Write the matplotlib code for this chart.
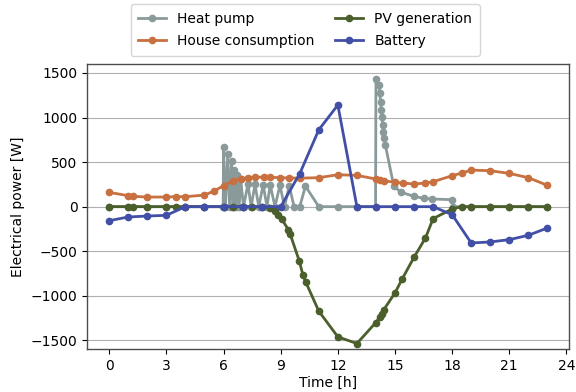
import matplotlib
matplotlib.use("Agg")
import matplotlib.pyplot as plt

# Heat pump (irregular timestamps, on/off cycling in the morning)
hp_time = [0, 1, 2, 3, 4, 5, 5.98, 6.0, 6.1, 6.22, 6.32, 6.42, 6.5, 6.57, 6.65,
           6.73, 6.82, 6.9, 7.05, 7.28, 7.45, 7.65, 7.85, 8.08, 8.28, 8.45,
           8.7, 8.96, 9.2, 9.45, 9.7, 10.0, 10.3, 11.0, 12.0, 13.0, 13.98,
           14.0, 14.15, 14.2, 14.24, 14.28, 14.31, 14.35, 14.38, 14.42, 14.49,
           14.94, 15.33, 16.0, 16.5, 16.96, 18.0, 18.05, 19, 20, 21, 22, 23]
hp_power = [0, 0, 0, 0, 0, 0, 0, 665, 0, 590, 0, 515, 0, 415, 0,
            355, 0, 305, 0, 255, 0, 250, 0, 245, 0, 245,
            0, 240, 0, 235, 0, 0, 230, 0, 0, 0, 0,
            1430, 1366, 1273, 1179, 1086, 1011, 918, 843, 769, 694,
            228, 160, 116, 93, 86, 78, 0, 0, 0, 0, 0, 0]

# House consumption
house_time = [0, 1, 1.25, 2, 3, 3.5, 4, 5, 5.5, 6, 6.5, 6.9, 7.3, 7.65, 8.1,
              8.45, 8.95, 9.45, 10, 11, 12, 13, 14, 14.2, 14.4, 15, 15.4, 16,
              16.6, 17, 18, 18.5, 19, 20, 21, 22, 23]
house_power = [160, 123, 116, 108, 108, 112, 112, 130, 175, 235, 290, 315, 325,
               330, 332, 330, 325, 322, 320, 325, 358, 351, 310, 300, 292, 272,
               265, 254, 265, 280, 347, 377, 410, 403, 373, 325, 239]

# PV generation
pv_time = [0, 1, 1.25, 2, 3, 3.5, 4, 5, 6, 6.5, 7, 7.5, 8, 8.44, 8.7, 8.88,
           9.05, 9.4, 9.49, 9.98, 10.16, 10.32, 11, 12, 13, 13.98, 14.2, 14.3,
           14.4, 15, 15.38, 16, 16.6, 17, 18, 18.5, 19, 20, 21, 22, 23]
pv_power = [0, 0, 0, 0, 0, 0, 0, 0, 0, 0, 0, 0, -2, -15, -52, -90,
            -138, -258, -302, -612, -761, -848, -1172, -1460, -1535, -1303, -1240, -1200,
            -1160, -967, -810, -567, -351, -134, -26, 0, 0, 0, 0, 0, 0]

# Battery
bat_time = [0, 1, 2, 3, 4, 5, 6, 7, 8, 9, 10, 11, 12, 13, 14, 15, 16, 17,
            18, 19, 20, 21, 22, 23]
bat_power = [-157, -116, -105, -97, 0, 0, 0, 0, 0, 0, 370, 862, 1140, 0, 0,
             0, 0, 0, -90, -407, -396, -370, -321, -239]

fig = plt.figure(figsize=(5.76, 3.92), dpi=100)
ax = fig.add_axes([0.1516, 0.1089, 0.8368, 0.7278])

style = dict(marker='o', markersize=4.5, linewidth=2)
ax.plot(hp_time, hp_power, color='#8a9a9a', label='Heat pump', **style)
ax.plot(house_time, house_power, color='#c8703f', label='House consumption', **style)
ax.plot(pv_time, pv_power, color='#4b5f2c', label='PV generation', **style)
ax.plot(bat_time, bat_power, color='#4150a6', label='Battery', **style)

ax.set_ylim(-1600, 1600)
ax.set_xticks(range(0, 25, 3))
ax.set_yticks([-1500, -1000, -500, 0, 500, 1000, 1500])
ax.grid(axis='y')
ax.set_axisbelow(True)
for sp in ax.spines.values():
    sp.set_color('0.3')
    sp.set_linewidth(1.0)
ax.set_xlabel('Time [h]', labelpad=2)
ax.set_ylabel('Electrical power [W]')

ax.legend(ncol=2, loc='lower center', bbox_to_anchor=(0.452, 1.004),
          handlelength=2, columnspacing=1.5, borderpad=0.55, labelspacing=0.6)

fig.savefig('out.png', dpi=100)
